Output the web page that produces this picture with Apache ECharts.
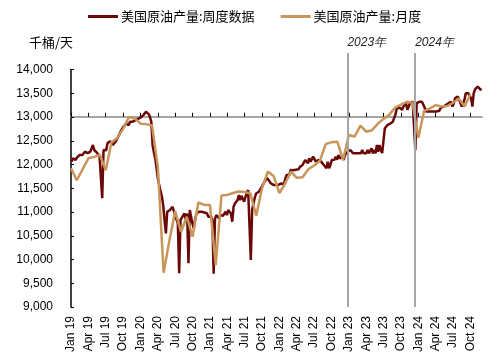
<!DOCTYPE html>
<html><head><meta charset="utf-8">
<script src="https://cdn.jsdelivr.net/npm/echarts@6/dist/echarts.min.js"></script>
<style>html,body{margin:0;padding:0;background:#fff}#c{width:501px;height:362px}</style>
</head><body><div id="c"></div>
<script>
const tickLabels = ['Jan 19','Apr 19','Jul 19','Oct 19','Jan 20','Apr 20','Jul 20','Oct 20',
  'Jan 21','Apr 21','Jul 21','Oct 21','Jan 22','Apr 22','Jul 22','Oct 22',
  'Jan 23','Apr 23','Jul 23','Oct 23','Jan 24','Apr 24','Jul 24','Oct 24'];

// 美国原油产量:月度 (Jan 2019 - Oct 2024), 千桶/天
const monthlyValues = [
  11920,11670,11900,12130,12160,12200,11880,12470,12560,12750,13000,12970,
  12860,12850,12820,11950,9720,10400,11020,10580,10900,10480,11200,11150,
  11150,9880,11350,11360,11400,11430,11420,11390,10920,11500,11850,11760,
  11400,11600,11850,11720,11730,11900,11980,12080,12430,12470,12480,12100,
  12620,12590,12820,12690,12720,12860,12960,13050,13200,13260,13320,13300,
  12560,13130,13180,13250,13220,13230,13300,13390,13220,13480
];

// 美国原油产量:周度数据, 千桶/天
const weeklyValues = [
  12060,12130,12100,12095,12150,12130,12200,12165,12200,12235,
  12270,12305,12240,12200,12270,12270,12410,12305,12270,12250,
  12235,12165,12130,11290,12305,12340,12300,12450,12480,12490,
  12515,12410,12450,12480,12530,12585,12640,12700,12740,12795,
  12760,12860,12850,12830,12900,12935,12900,12920,12935,12970,
  12960,13000,12990,12990,13040,13080,13110,13090,13060,13000,
  12900,12400,12250,12120,11920,11700,11560,11440,11320,11140,
  10820,10550,11005,11005,11040,11080,11110,11075,10935,10840,
  10760,9710,10830,10880,10920,10970,10830,10970,9920,11040,
  10900,10760,10655,10830,10970,11005,11005,11000,11005,11005,
  10990,10970,10970,10900,10935,10900,10830,9700,10860,10935,
  10900,10865,10935,10935,10920,10900,11005,10935,11040,11000,
  10970,10795,11110,11180,11220,11250,11355,11250,11340,11280,
  11215,11320,11400,11460,11495,9990,11040,11180,11300,11390,
  11400,11425,11460,11520,11570,11620,11640,11720,11690,11650,
  11605,11580,11570,11600,11570,11560,11575,11570,11600,11570,
  11580,11700,11780,11800,11780,11885,11870,11880,11900,11890,
  11920,11900,11950,11920,11990,12025,12095,12060,12025,12130,
  12060,12095,12165,12130,12060,12025,12095,12110,12060,12090,
  11990,12000,11920,12060,11920,11990,12095,12060,12100,12165,
  12100,12200,12130,12100,12165,12095,12200,12235,12270,12250,
  12305,12270,12235,12270,12235,12270,12235,12270,12235,12305,
  12235,12270,12235,12305,12235,12270,12340,12235,12305,12235,
  12410,12270,12410,12305,12240,12240,12760,12800,12830,12800,
  12860,12900,12900,12935,13050,13180,13185,13200,13220,13150,
  13220,13250,13290,13150,13220,13300,13320,13320,13300,12300,
  13290,13310,13320,13320,13320,13300,13200,13115,13115,13115,
  13115,13115,13115,13115,13115,13115,13115,13130,13185,13185,
  13220,13220,13250,13290,13290,13320,13320,13220,13290,13400,
  13430,13430,13430,13300,13220,13290,13360,13500,13500,13500,
  13500,13400,13220,13500,13580,13620,13640,13600,13580,13570
];

const yearMarkPos = [47.75, 59.45];
const yearMarkLabels = ['2023年', '2024年'];

const weekStart = 0.12, weekStep = 0.2292;
const weeklyData = weeklyValues.map((v, i) => [weekStart + i * weekStep, v]);
const monthlyData = monthlyValues.map((v, i) => [i, v]);
const tickValues = tickLabels.map((_, i) => i * 3);

const chart = echarts.init(document.getElementById('c'));
const lab = {fontFamily: 'Liberation Sans', color: '#000', fontSize: 12};
chart.setOption({
  animation: false,
  legend: {
    left: 88, top: 10, padding: 0, itemWidth: 30, itemHeight: 3, itemGap: 26,
    textStyle: {fontSize: 13, color: '#000', fontFamily: 'Noto Sans CJK SC', padding: [0, 0, 0, -2]},
    data: [{name: '美国原油产量:周度数据', icon: 'rect'}, {name: '美国原油产量:月度', icon: 'rect'}]
  },
  grid: [
    {left: 71, right: 19, top: 69.5, bottom: 55},
    {left: 71, right: 19, top: 69.5, height: 47.3},
    {left: 71, right: 19, top: 53, bottom: 55}
  ],
  xAxis: [
    {gridIndex: 0, type: 'value', min: 0, max: 71,
     axisLine: {show: false}, axisTick: {show: false}, splitLine: {show: false},
     axisLabel: Object.assign({customValues: tickValues, rotate: 90, margin: 9,
       formatter: v => tickLabels[Math.round(v / 3)] || ''}, lab)},
    {gridIndex: 1, type: 'value', min: 0, max: 71,
     axisLine: {show: true, lineStyle: {color: '#A6A6A6', width: 2}},
     axisTick: {show: true, inside: true, length: 4, customValues: tickValues, lineStyle: {color: '#000', width: 1}},
     axisLabel: {show: false}, splitLine: {show: false}},
    {gridIndex: 2, type: 'value', min: 0, max: 71, show: false}
  ],
  yAxis: [
    {gridIndex: 0, type: 'value', min: 9000, max: 14000, interval: 500,
     name: '千桶/天', nameLocation: 'end', nameGap: 21,
     nameTextStyle: {fontSize: 13, color: '#000', fontFamily: 'Noto Sans CJK SC', align: 'right', padding: [0, -2, 0, 0]},
     axisLine: {show: true, lineStyle: {color: '#000', width: 1.5}},
     axisTick: {show: true, inside: true, length: 3, lineStyle: {color: '#000'}},
     splitLine: {show: false},
     axisLabel: Object.assign({margin: 18, formatter: v => v.toLocaleString('en-US')}, lab)},
    {gridIndex: 1, type: 'value', min: 0, max: 1, show: false},
    {gridIndex: 2, type: 'value', min: 0, max: 1, show: false}
  ],
  series: [
    {name: '美国原油产量:周度数据', type: 'line', data: weeklyData, symbol: 'none',
     lineStyle: {color: '#6B0808', width: 2.5}, itemStyle: {color: '#6B0808'}, z: 3},
    {name: '美国原油产量:月度', type: 'line', data: monthlyData, symbol: 'none',
     lineStyle: {color: '#C8955A', width: 2.5}, itemStyle: {color: '#C8955A'}, z: 4},
    {type: 'line', xAxisIndex: 2, yAxisIndex: 2, data: [], silent: true, z: 1,
     markLine: {symbol: 'none', silent: true, animation: false,
       lineStyle: {color: '#A6A6A6', width: 2, type: 'solid'},
       label: {show: true, position: 'end', formatter: p => p.name, align: 'left', distance: 4,
         fontStyle: 'italic', fontSize: 12, color: '#222', fontFamily: 'Liberation Sans'},
       data: yearMarkPos.map((x, i) => ({xAxis: x, name: yearMarkLabels[i]}))}}
  ]
});
</script></body></html>
